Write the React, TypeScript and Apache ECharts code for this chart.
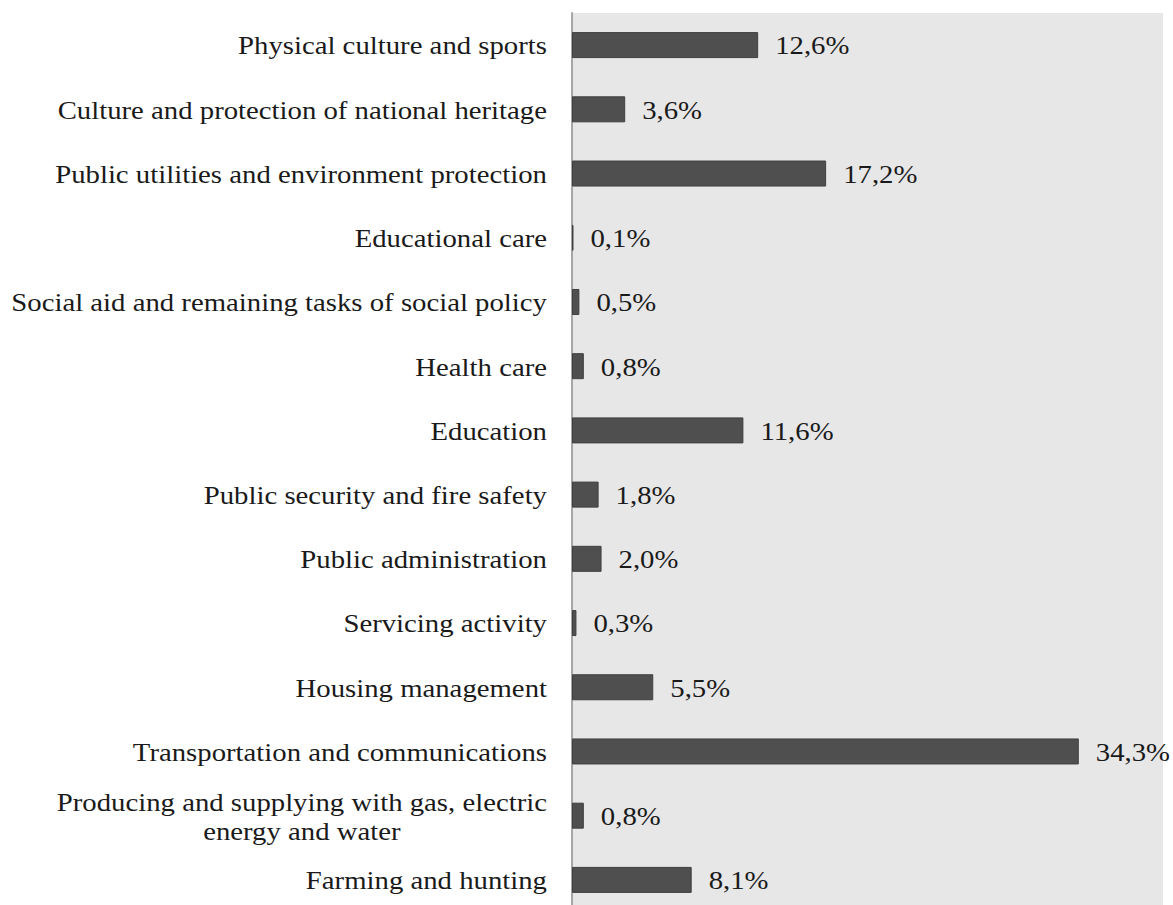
import React, { useEffect, useRef } from "react";
import * as echarts from "echarts";

const categories = [
  "Physical culture and sports",
  "Culture and protection of national heritage",
  "Public utilities and environment protection",
  "Educational care",
  "Social aid and remaining tasks of social policy",
  "Health care",
  "Education",
  "Public security and fire safety",
  "Public administration",
  "Servicing activity",
  "Housing management",
  "Transportation and communications",
  "Producing and supplying with gas, electric\nenergy and water",
  "Farming and hunting",
];

const values = [12.6, 3.6, 17.2, 0.1, 0.5, 0.8, 11.6, 1.8, 2.0, 0.3, 5.5, 34.3, 0.8, 8.1];

const FONT = "'Liberation Serif', 'Times New Roman', serif";
const FS = 25;
const STRETCH = 1.15;
const TEXT_COLOR = "#1a1a1a";

export default function App() {
  const ref = useRef<HTMLDivElement>(null);
  useEffect(() => {
    if (!ref.current) return;
    const chart = echarts.init(ref.current, undefined, { renderer: "svg" });
    chart.setOption({
      animation: false,
      grid: {
        left: 572,
        right: 10,
        top: 13,
        bottom: 0,
        show: true,
        backgroundColor: "#e7e7e7",
        borderWidth: 0,
      },
      xAxis: { type: "value", min: 0, max: 40, show: false },
      yAxis: {
        type: "category",
        data: categories,
        inverse: true,
        axisLine: { show: true, lineStyle: { color: "#a6a6a6", width: 2 } },
        axisTick: { show: false },
        axisLabel: { show: false },
      },
      series: [
        {
          type: "bar",
          data: values,
          barWidth: 26,
          itemStyle: { color: "#4f4f4f", borderColor: "#3f3f3f", borderWidth: 1 },
          label: { show: false },
        },
      ],
    });

    const axisX = chart.convertToPixel({ xAxisIndex: 0 }, 0) as number;
    const elements: any[] = [];
    categories.forEach((cat, i) => {
      const y = chart.convertToPixel({ yAxisIndex: 0 }, i) as number;
      const xEnd = chart.convertToPixel({ xAxisIndex: 0 }, values[i]) as number;
      elements.push({
        type: "text",
        x: axisX - 25,
        y: y + 1,
        scaleX: STRETCH,
        style: {
          text: cat
            .split("\n")
            .map((s) => "{a|" + s + "}")
            .join("\n"),
          rich: {
            a: {
              fontFamily: FONT,
              fontSize: FS,
              fill: TEXT_COLOR,
              lineHeight: 29,
              align: "center",
            },
          },
          fontFamily: FONT,
          fontSize: FS,
          fill: TEXT_COLOR,
          align: "right",
          verticalAlign: "middle",
        },
      });
      elements.push({
        type: "text",
        x: xEnd + 17,
        y: y + 1,
        scaleX: STRETCH,
        style: {
          text: values[i].toFixed(1).replace(".", ",") + "%",
          fontFamily: FONT,
          fontSize: FS,
          fill: TEXT_COLOR,
          align: "left",
          verticalAlign: "middle",
        },
      });
    });
    chart.setOption({ graphic: { elements } });
    return () => chart.dispose();
  }, []);
  return (
    <div style={{ position: "absolute", left: 0, top: 0, width: 1173, height: 905, overflow: "hidden", background: "#fff" }}>
      <div ref={ref} style={{ width: 1173, height: 912 }} />
    </div>
  );
}
